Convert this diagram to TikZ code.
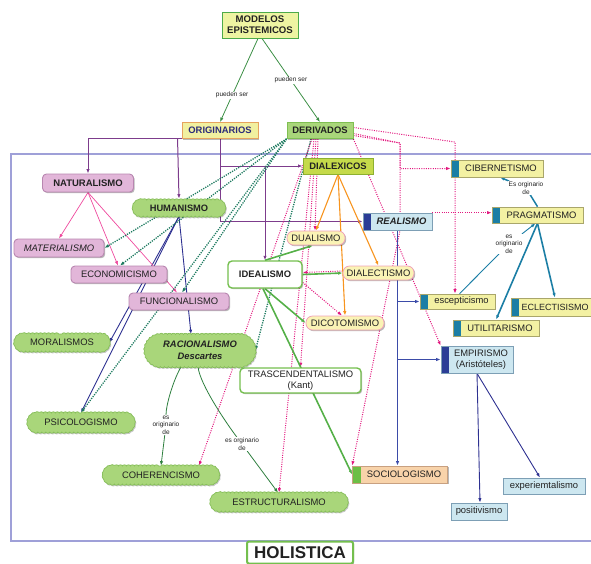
\documentclass[tikz,border=0pt]{standalone}
\usepackage{fontspec}
\setmainfont{Liberation Sans}
\usetikzlibrary{shapes.misc,shadows,arrows.meta,calc,decorations.pathmorphing}
\pgfdeclarelayer{bg}
\pgfsetlayers{bg,main}
\definecolor{txt}{HTML}{222222}
\definecolor{cFrame}{HTML}{9FA0D8}
\definecolor{cPurp}{HTML}{7D3C8C}
\definecolor{cNavy}{HTML}{2E3191}
\definecolor{cNavyB}{HTML}{3B4BA8}
\definecolor{cPinkL}{HTML}{EE4A9E}
\definecolor{cPinkD}{HTML}{E2187F}
\definecolor{cTealD}{HTML}{1D7A5F}
\definecolor{cGreenT}{HTML}{55B048}
\definecolor{cOrange}{HTML}{F7941E}
\definecolor{cTeal}{HTML}{1B7EA5}
\definecolor{cDkG}{HTML}{2E7F3F}
\definecolor{cMG}{HTML}{3C8F45}
\definecolor{modelosF}{HTML}{EEF4A2}
\definecolor{modelosD}{HTML}{4DAA4A}
\definecolor{origF}{HTML}{F1F0A0}
\definecolor{origD}{HTML}{E6A35E}
\definecolor{origT}{HTML}{2B2B7A}
\definecolor{derivF}{HTML}{A9D67A}
\definecolor{derivD}{HTML}{7FBF52}
\definecolor{dialexF}{HTML}{C5DA4A}
\definecolor{dialexD}{HTML}{8DB030}
\definecolor{pinkF}{HTML}{E2B6D9}
\definecolor{pinkD}{HTML}{B886B0}
\definecolor{cloudF}{HTML}{A9D67A}
\definecolor{cloudD}{HTML}{86BE5A}
\definecolor{pillF}{HTML}{FAF3B5}
\definecolor{pillD}{HTML}{F0A3B8}
\definecolor{blueF}{HTML}{CDE7F0}
\definecolor{blueD}{HTML}{7D9FB5}
\definecolor{navySt}{HTML}{2B3D96}
\definecolor{yelF}{HTML}{F3F1A3}
\definecolor{yelD}{HTML}{A9A66B}
\definecolor{tealSt}{HTML}{1B7EA5}
\definecolor{peachF}{HTML}{F8D3AA}
\definecolor{peachD}{HTML}{C8A080}
\definecolor{greenSt}{HTML}{6CBF45}
\definecolor{wboxD}{HTML}{74BF4E}
\newcommand{\myfn}{\fontsize{9.4}{10.8}\selectfont}
\newcommand{\mylb}{\fontsize{6.5}{7.4}\selectfont}
\tikzset{
  shad/.style={drop shadow={shadow xshift=1.2pt,shadow yshift=-1.2pt,fill=black,opacity=0.28}},
  box/.style={shad, inner sep=0pt, align=center, font=\myfn, text=txt},
  pinkbox/.style={box, rectangle, rounded corners=4pt, fill=pinkF, draw=pinkD, line width=0.9pt},
  cloudbox/.style={inner sep=0pt, align=center, font=\myfn, text=txt, rounded rectangle, fill=cloudF, draw=cloudD, line width=0.7pt,
     decorate, decoration={bumps, segment length=8pt, amplitude=1.2pt},
     drop shadow={shadow xshift=1pt,shadow yshift=-1.2pt,fill=black,opacity=0.22}},
  pillbox/.style={box, rectangle, rounded corners=6.5pt, fill=pillF, draw=pillD, line width=0.8pt},
  wbox/.style={box, rectangle, rounded corners=4pt, fill=white, draw=wboxD, line width=1.4pt},
  lstripe/.style={path picture={\fill[#1] (path picture bounding box.south west) rectangle ([xshift=8pt]path picture bounding box.north west);}},
  yelbox/.style={box, rectangle, fill=yelF, draw=yelD, line width=0.7pt, lstripe=tealSt},
  bluebox/.style={box, rectangle, fill=blueF, draw=blueD, line width=0.7pt, lstripe=navySt},
  peachbox/.style={box, rectangle, fill=peachF, draw=peachD, line width=0.7pt, lstripe=greenSt},
  plainblue/.style={box, rectangle, fill=blueF, draw=blueD, line width=0.7pt},
  lbl/.style={font=\mylb, text=txt, fill=white, inner sep=0.6pt, align=center},
  arr/.style={-{Latex[length=4.5pt,width=3.4pt]}},
  ePurp/.style={draw=cPurp, line width=1pt, arr},
  eNavy/.style={draw=cNavy, line width=0.9pt, arr},
  eNavyB/.style={draw=cNavyB, line width=1pt, arr},
  ePinkL/.style={draw=cPinkL, line width=0.7pt, arr},
  ePinkD/.style={draw=cPinkD, line width=1pt, dash pattern=on 1pt off 1.3pt, arr},
  eTealD/.style={draw=cTealD, line width=1.3pt, dash pattern=on 1.2pt off 1.2pt, arr},
  eGreenT/.style={draw=cGreenT, line width=1.6pt, arr},
  eOrange/.style={draw=cOrange, line width=1.1pt, arr},
  eTeal/.style={draw=cTeal, arr},
  eDkG/.style={draw=cDkG, line width=0.8pt, arr},
  eMG/.style={draw=cMG, line width=0.8pt, arr},
}
\begin{document}
\begin{tikzpicture}[x=1pt,y=-1pt]
\useasboundingbox (0,0) rectangle (591,563);

% ---------- nodes ----------
\node[box, rectangle, fill=modelosF, draw=modelosD, line width=1pt, minimum width=76pt, minimum height=26pt, font=\bfseries\fontsize{9.6}{11}\selectfont] (modelos) at (260,25) {MODELOS\\EPISTEMICOS};
\node[box, rectangle, fill=origF, draw=origD, line width=0.9pt, minimum width=76pt, minimum height=16pt, font=\bfseries\fontsize{9.4}{10}\selectfont, text=origT] (orig) at (220,130.5) {ORIGINARIOS};
\node[box, rectangle, fill=derivF, draw=derivD, line width=0.9pt, minimum width=66pt, minimum height=16pt, font=\bfseries\fontsize{9.4}{10}\selectfont] (deriv) at (320,130.5) {DERIVADOS};
\node[box, rectangle, fill=dialexF, draw=dialexD, line width=0.9pt, minimum width=70pt, minimum height=16pt, font=\bfseries\fontsize{9.4}{10}\selectfont] (dialex) at (338,166) {DIALEXICOS};

\node[pinkbox, minimum width=91pt, minimum height=18pt, font=\bfseries\fontsize{9.5}{10}\selectfont] (natur) at (88,183) {NATURALISMO};
\node[cloudbox, minimum width=91pt, minimum height=16pt, font=\bfseries\fontsize{9.3}{10}\selectfont] (human) at (179,208) {HUMANISMO};
\node[pinkbox, minimum width=90pt, minimum height=18pt, font=\itshape\myfn] (mater) at (59,248) {MATERIALISMO};
\node[pinkbox, minimum width=96pt, minimum height=17pt] (econ) at (119,274.5) {ECONOMICISMO};
\node[pinkbox, minimum width=100pt, minimum height=17pt] (funcion) at (179,301.5) {FUNCIONALISMO};
\node[cloudbox, minimum width=94pt, minimum height=17pt] (moral) at (62,342.5) {MORALISMOS};
\node[cloudbox, minimum width=110pt, minimum height=32pt, font=\bfseries\itshape\fontsize{9.4}{11.5}\selectfont] (racion) at (200,350.5) {RACIONALISMO\\Descartes};
\node[cloudbox, minimum width=106pt, minimum height=19pt] (psico) at (81,422.5) {PSICOLOGISMO};
\node[cloudbox, minimum width=115pt, minimum height=18pt] (coher) at (161,475) {COHERENCISMO};
\node[cloudbox, minimum width=136pt, minimum height=18pt] (estruct) at (279,502) {ESTRUCTURALISMO};
\node[wbox, minimum width=121pt, minimum height=25pt, font=\fontsize{9.4}{10.8}\selectfont] (trasc) at (300.5,380.5) {TRASCENDENTALISMO\\(Kant)};
\node[peachbox, minimum width=95pt, minimum height=17pt] (socio) at (400,474.5) {\hspace*{8pt}SOCIOLOGISMO};
\node[wbox, minimum width=74pt, minimum height=27pt, font=\bfseries\fontsize{9.4}{10}\selectfont] (ideal) at (265,274.5) {IDEALISMO};
\node[pillbox, minimum width=58pt, minimum height=14pt] (dual) at (316,238) {DUALISMO};
\node[pillbox, minimum width=71pt, minimum height=14pt] (dialect) at (378.5,273) {DIALECTISMO};
\node[pillbox, minimum width=78pt, minimum height=14pt] (dicot) at (345,323) {DICOTOMISMO};
\node[bluebox, minimum width=69pt, minimum height=17pt, font=\bfseries\itshape\fontsize{9.4}{10}\selectfont] (realismo) at (397.5,221.5) {\hspace*{8pt}REALISMO};
\node[yelbox, minimum width=92pt, minimum height=17pt] (ciber) at (497,168.5) {\hspace*{8pt}CIBERNETISMO};
\node[yelbox, minimum width=91pt, minimum height=16pt] (pragm) at (537.5,215) {\hspace*{8pt}PRAGMATISMO};
\node[yelbox, minimum width=75pt, minimum height=15pt] (escep) at (457.5,301.5) {\hspace*{8pt}escepticismo};
\node[yelbox, minimum width=80pt, minimum height=18pt, font=\fontsize{9}{10}\selectfont] (eclec) at (551,307) {\hspace*{8pt}ECLECTISISMO};
\node[yelbox, minimum width=86pt, minimum height=16pt] (utilit) at (496,328) {\hspace*{8pt}UTILITARISMO};
\node[bluebox, minimum width=72pt, minimum height=27pt] (empir) at (477,359.5) {\hspace*{8pt}EMPIRISMO\\\hspace*{8pt}(Aristóteles)};
\node[plainblue, minimum width=82pt, minimum height=16pt] (experi) at (544,486) {experiemtalismo};
\node[plainblue, minimum width=56pt, minimum height=17pt] (positiv) at (479,511.5) {positivismo};
\node[wbox, rounded corners=2pt, line width=2pt, minimum width=106pt, minimum height=22pt, font=\bfseries\fontsize{17}{18}\selectfont] (holist) at (300,552.5) {HOLISTICA};

% labels that sit on bent connectors
\node[lbl] (lblA) at (526,188) {Es orginario\\de};
\node[lbl] (lblB) at (509,244) {es\\originario\\de};
\node[lbl] (lblC) at (166,425) {es\\originario\\de};
\node[lbl] (lblD) at (242,444) {es orginario\\de};

% ---------- connectors ----------
\begin{pgfonlayer}{bg}
\draw[cFrame, line width=1.8pt] (11,154) rectangle (597,541);

\draw[eMG] ([xshift=-2pt]modelos.south) -- node[lbl, pos=0.68] (lp1) {pueden ser} (orig.north);
\draw[eMG] ([xshift=2pt]modelos.south) -- node[lbl, pos=0.5] (lp2) {pueden ser} (deriv.north);

% purple from ORIGINARIOS
\draw[ePurp] (orig.south west) -| (natur.north);
\draw[ePurp] ([xshift=-4pt]orig.south west) -- ([yshift=1pt]human.north);
\draw[ePurp] (orig.south) |- (dialex.west);
\draw[ePurp] (orig.south) |- (realismo.west);
\draw[ePurp] (orig.south |- dialex.west) -| (ideal.north);

% navy from HUMANISMO
\draw[eNavy] (human.south) -- (moral.east);
\draw[eNavy] (human.south) -- (psico.north);
\draw[eNavy] (human.south) -- ([xshift=-9pt]racion.north);

% pink from NATURALISMO
\draw[ePinkL] (natur.south) -- (mater.north);
\draw[ePinkL] (natur.south) -- ([xshift=-1pt]econ.north);
\draw[ePinkL] (natur.south) -- ([xshift=-2pt]funcion.north);

% dark green dashed from DERIVADOS
\draw[eTealD] (deriv.south west) -- (mater.east);
\draw[eTealD] (deriv.south west) -- ([xshift=1pt]econ.north);
\draw[eTealD] (deriv.south west) -- ([xshift=3pt]funcion.north);
\draw[eTealD] (deriv.south west) -- (psico.north);
\draw[eTealD] ([xshift=-9pt]deriv.south) -- (racion.east);

% pink dotted from DERIVADOS
\coordinate (wpA) at (400,143);
\coordinate (wpB) at (455,142);
\draw[ePinkD] ([yshift=-3pt]deriv.east) -- (wpA) |- (ciber.west);
\draw[ePinkD] ([yshift=-5pt]deriv.east) -- (wpA) -- (wpA |- realismo.south) -- (socio.north west);
\draw[ePinkD] ([yshift=3pt]deriv.east) -- (wpB) -- (wpB |- escep.north);
\draw[ePinkD] (deriv.south east) -- (empir.north west);
\draw[ePinkD] (realismo.north east) -- (pragm.west |- realismo.north east);
\draw[ePinkD] ([xshift=-2pt]deriv.south) -- ([xshift=-1pt]dual.north);
\draw[ePinkD] ([xshift=-4pt]deriv.south) -- (trasc.north);
\draw[ePinkD] ([xshift=-6pt]deriv.south) -- (estruct.north);
\draw[ePinkD] ([xshift=-8pt]deriv.south) -- ([xshift=38pt]coher.north);
\draw[ePinkD] ([yshift=2pt]dialect.west) -- ([yshift=2pt]ideal.east);
\draw[ePinkD] ([yshift=-8pt]ideal.east) -- ([xshift=-3pt]dicot.north);

% green thick from IDEALISMO
\draw[eGreenT] (ideal.north) -- ([xshift=-3pt]dual.south);
\draw[eGreenT] (ideal.east) -- (dialect.west);
\draw[eGreenT] (ideal.south) -- (dicot.west);
\draw[eGreenT] ([xshift=-2pt]ideal.south) -- (socio.west);

% orange from DIALEXICOS
\draw[eOrange] (dialex.south) -- (dual.north);
\draw[eOrange] (dialex.south) -- (dialect.north);
\draw[eOrange] (dialex.south) -- (dicot.north);

% teal
\draw[eTeal, line width=1.5pt] (pragm.north) -- (lblA) -- ([xshift=3pt]ciber.south);
\draw[eTeal, line width=0.9pt] ([xshift=2pt]escep.north) -- (lblB) -- ([xshift=-2pt]pragm.south);
\draw[eTeal, line width=1.6pt] (pragm.south) -- ([xshift=4pt]eclec.north);
\draw[eTeal, line width=1.6pt] (pragm.south) -- (utilit.north);

% navy from REALISMO
\draw[eNavyB] (realismo.south) -- (realismo.south |- socio.north);
\draw[eNavyB] (realismo.south |- escep.west) -- (escep.west);
\draw[eNavyB] (realismo.south |- empir.west) -- (empir.west);

% EMPIRISMO
\draw[eNavy] (empir.south) -- ([xshift=1pt]positiv.north);
\draw[eNavy] (empir.south) -- ([xshift=-4pt]experi.north);

% RACIONALISMO
\draw[eDkG] ([xshift=-19pt]racion.south) .. controls +(-8,14) and +(0,-20) .. (lblC) -- (coher.north);
\draw[eDkG] ([xshift=-2pt]racion.south) .. controls +(2,18) and +(-15,-20) .. (lblD) -- ([xshift=-1pt]estruct.north);
\end{pgfonlayer}
\end{tikzpicture}
\end{document}
